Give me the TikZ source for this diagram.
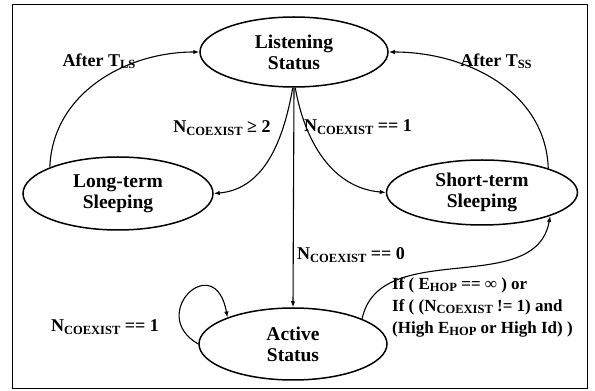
\documentclass[tikz,border=0pt]{standalone}
\usepackage{fontspec}
\setmainfont{Liberation Serif}
\usetikzlibrary{shapes.geometric,arrows.meta}
\newcommand{\sbs}[1]{\raisebox{-2.5pt}{\fontsize{12.5}{12.5}\selectfont #1}}
\begin{document}
\begin{tikzpicture}[x=1pt,y=1pt,
  state/.style={ellipse,draw,line width=1.5pt,inner sep=0pt,align=center,
    font=\fontsize{19.5}{21}\selectfont\bfseries},
  lbl/.style={font=\fontsize{18}{22}\selectfont\bfseries,inner sep=0pt},
  arr/.style={line width=1.1pt,-{Latex[length=6pt,width=4.5pt]}}]
\useasboundingbox (0,0) rectangle (595,391);
\draw[line width=0.8pt] (12,3) rectangle (587,387);
\node[state,minimum width=188,minimum height=70] (lis) at (294,339) {Listening\\Status};
\node[state,minimum width=190,minimum height=73] (lts) at (118,197.5) {Long-term\\Sleeping};
\node[state,minimum width=191,minimum height=65] (sts) at (482,198.5) {Short-term\\Sleeping};
\node[state,minimum width=188,minimum height=72] (act) at (293,47) {Active\\Status};
% connectors
\draw[arr] (lts.159) to[out=88,in=180] (lis.west);
\draw[arr] (lis.268) to[out=-100,in=5] (lts.east);
\draw[arr] (lis.272) to[out=-80,in=175] (sts.west);
\draw[arr] (sts.20) to[out=92,in=0] (lis.east);
\draw[arr] (lis.south) -- (act.north);
\draw[arr] (act.west) .. controls +(150:60) and +(100:70) .. (act.158);
\draw[arr] (act.20) to[out=78,in=-100] (sts.-19);
% labels
\node[lbl] (l1) at (99,330) {After T\sbs{LS}};
\node[lbl] (l2) at (222,263) {N\sbs{COEXIST}~≥~2};
\node[lbl] (l3) at (358,264) {N\sbs{COEXIST} == 1};
\node[lbl] (l4) at (496,330) {After T\sbs{SS}};
\node[lbl,anchor=west] (l5) at (297,136) {N\sbs{COEXIST} == 0};
\node[lbl] (l6) at (105,64) {N\sbs{COEXIST} == 1};
\node[lbl,anchor=west,align=left,font=\fontsize{17}{22}\selectfont\bfseries] (l7) at (392,84)
  {If ( E\sbs{HOP} == ∞ ) or\\If ( (N\sbs{COEXIST} != 1) and\\(High E\sbs{HOP} or High Id) )};
\end{tikzpicture}
\end{document}
